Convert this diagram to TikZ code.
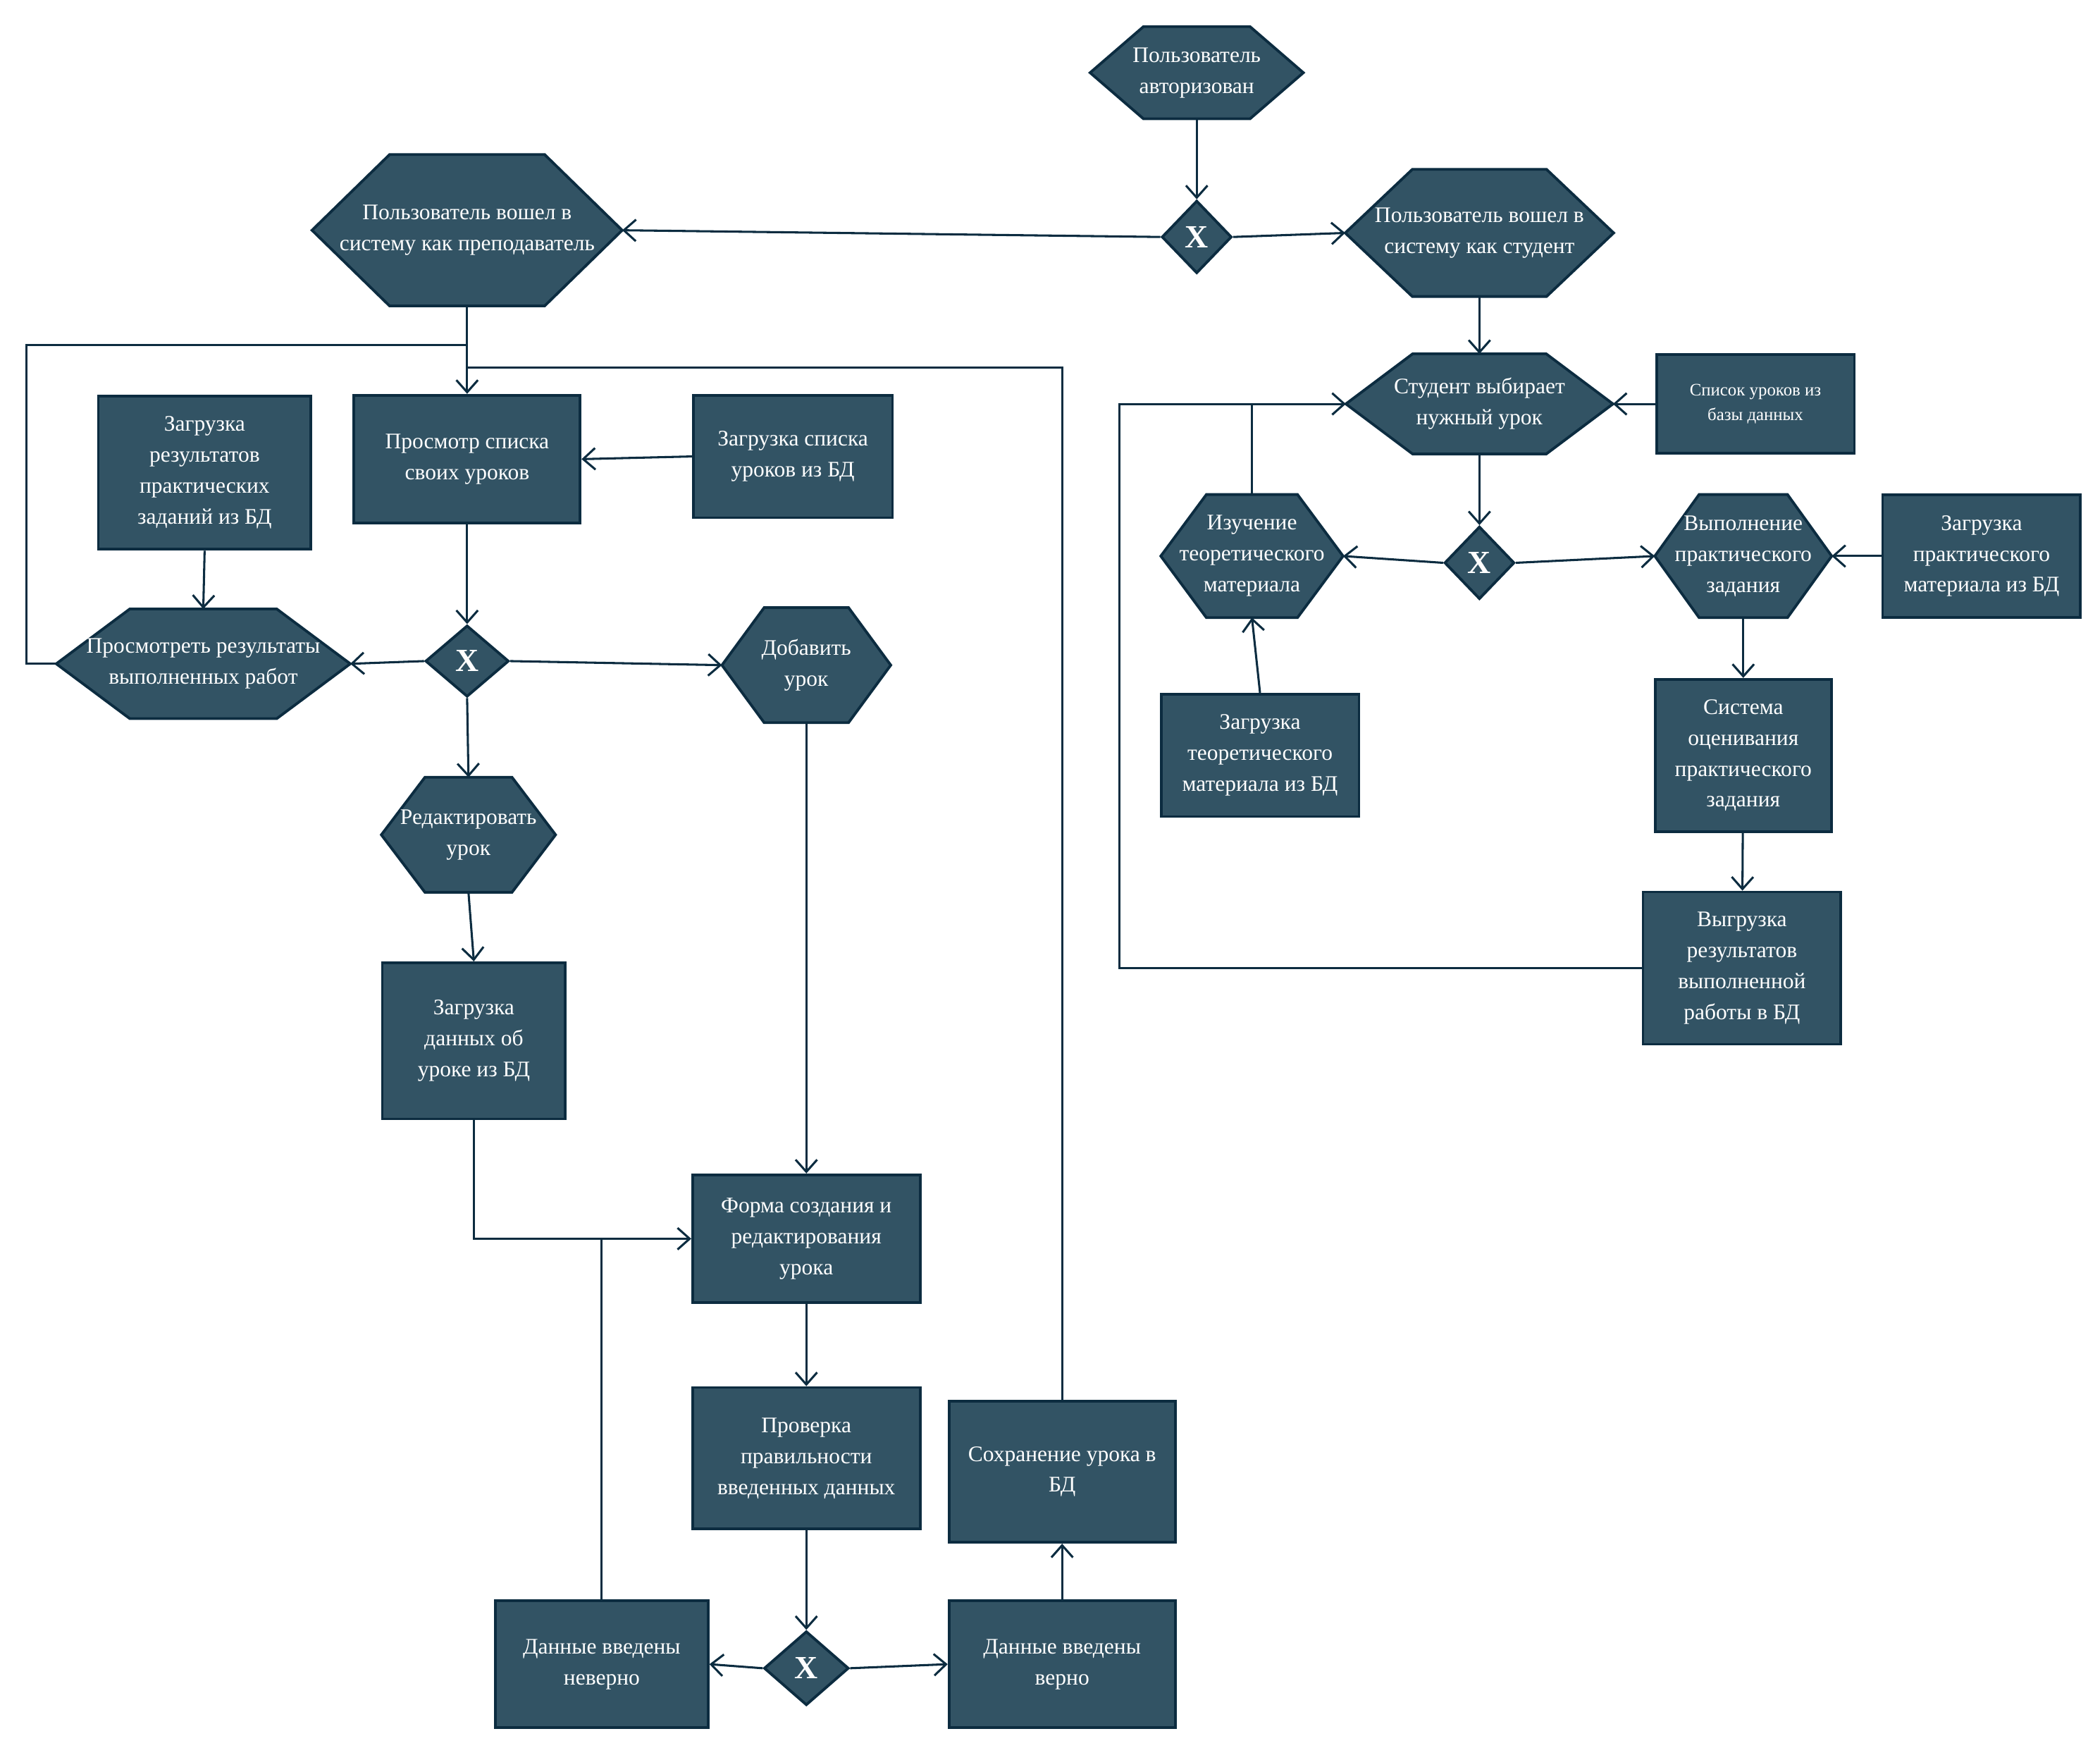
\documentclass[tikz,border=0pt]{standalone}
\usepackage{fontspec}
\setmainfont{Liberation Serif}
\usepackage{xcolor}
\usepackage{tikz}
\usetikzlibrary{shapes.geometric,arrows.meta,calc,backgrounds}
\definecolor{boxfill}{RGB}{50,83,100}
\definecolor{boxline}{RGB}{12,44,64}
\tikzset{
  box/.style = {rectangle, draw=boxline, fill=boxfill, line width=2, text=white, align=center, inner sep=1, font=\fontsize{16.5}{23}\selectfont},
  hexa/.style = {rectangle, text=white, align=center, inner sep=0, font=\fontsize{16.5}{23}\selectfont},
  gate/.style = {diamond, aspect=1, draw=boxline, fill=boxfill, line width=2, text=white, inner sep=0, font=\bfseries\fontsize{24}{24}\selectfont},
  line/.style = {draw=boxline, line width=1.6},
  arr/.style = {line, -{Straight Barb[length=9pt,width=16pt,line width=1.6pt]}}
}
\begin{document}
\begin{tikzpicture}[x=1pt, y=-1pt]
\useasboundingbox (0,0) rectangle (1560,1298);
\node[hexa, minimum width=158, minimum height=68] (auth) at (889,54) {Пользователь\\авторизован};
\node[gate, minimum width=52, minimum height=54] (gx1) at (889,176) {X};
\node[hexa, minimum width=230, minimum height=112] (teach) at (347,171) {Пользователь вошел в\\систему как преподаватель};
\node[hexa, minimum width=199, minimum height=94] (stud) at (1099,173) {Пользователь вошел в\\систему как студент};
\node[box, minimum width=168, minimum height=95] (view) at (347,341) {Просмотр списка\\своих уроков};
\node[box, minimum width=148, minimum height=91] (loadlist) at (589,339) {Загрузка списка\\уроков из БД};
\node[box, minimum width=158, minimum height=114] (loadres) at (152,351) {Загрузка\\результатов\\практических\\заданий из БД};
\node[hexa, minimum width=218, minimum height=81] (results) at (151,493) {Просмотреть результаты\\выполненных работ};
\node[gate, minimum width=62, minimum height=53] (gx2) at (347,491) {X};
\node[hexa, minimum width=125, minimum height=85] (add) at (599,494) {Добавить\\урок};
\node[hexa, minimum width=129, minimum height=85] (edit) at (348,620) {Редактировать\\урок};
\node[box, minimum width=136, minimum height=116] (loaddata) at (352,773) {Загрузка\\данных об\\уроке из БД};
\node[box, minimum width=169, minimum height=95] (form) at (599,920) {Форма создания и\\редактирования\\урока};
\node[box, minimum width=169, minimum height=105] (check) at (599,1083) {Проверка\\правильности\\введенных данных};
\node[gate, minimum width=63, minimum height=55] (gx3) at (599,1239) {X};
\node[box, minimum width=158, minimum height=94] (wrong) at (447,1236) {Данные введены\\неверно};
\node[box, minimum width=168, minimum height=94] (right) at (789,1236) {Данные введены\\верно};
\node[box, minimum width=168, minimum height=105] (save) at (789,1093) {Сохранение урока в\\БД};
\node[hexa, minimum width=198, minimum height=74] (choose) at (1099,300) {Студент выбирает\\нужный урок};
\node[box, minimum width=147, minimum height=73, font=\fontsize{13}{18}\selectfont] (lessons) at (1304,300) {Список уроков из\\базы данных};
\node[gate, minimum width=52, minimum height=54] (gx4) at (1099,418) {X};
\node[hexa, minimum width=135, minimum height=91] (theory) at (930,413) {Изучение\\теоретического\\материала};
\node[hexa, minimum width=131, minimum height=91] (practice) at (1295,413) {Выполнение\\практического\\задания};
\node[box, minimum width=147, minimum height=91] (loadprac) at (1472,413) {Загрузка\\практического\\материала из БД};
\node[box, minimum width=147, minimum height=91] (loadtheo) at (936,561) {Загрузка\\теоретического\\материала из БД};
\node[box, minimum width=131, minimum height=113] (grade) at (1295,561) {Система\\оценивания\\практического\\задания};
\node[box, minimum width=147, minimum height=113] (upload) at (1294,719) {Выгрузка\\результатов\\выполненной\\работы в БД};
\begin{scope}[on background layer]
\foreach \n in {auth,teach,stud,results,add,edit,choose,theory,practice}
  \filldraw[draw=boxline, fill=boxfill, line width=2, line join=miter]
    (\n.west) -- ($(\n.north west)!.25!(\n.north east)$) -- ($(\n.north west)!.75!(\n.north east)$)
    -- (\n.east) -- ($(\n.south west)!.75!(\n.south east)$) -- ($(\n.south west)!.25!(\n.south east)$) -- cycle;
\end{scope}
\coordinate (tj1) at (347,256);
\coordinate (tj2) at (347,273);
\draw[arr] (auth) -- (gx1);
\draw[arr] (gx1.west) -- (teach.east);
\draw[arr] (gx1.east) -- (stud.west);
\draw[arr] (teach) -- (view);
\draw[line] (results.west) -- ++(-22,0) |- (tj1);
\draw[line] (save.north) |- (tj2);
\draw[arr] (loadlist.west) -- (view.east);
\draw[arr] (loadres.south) -- (results.north);
\draw[arr] (view) -- (gx2);
\draw[arr] (gx2.west) -- (results.east);
\draw[arr] (gx2.east) -- (add.west);
\draw[arr] (gx2.south) -- (edit.north);
\draw[arr] (edit.south) -- (loaddata.north);
\draw[arr] (loaddata.south) |- (form.west);
\draw[arr] (add.south) -- (form.north);
\draw[arr] (form) -- (check);
\draw[arr] (check) -- (gx3);
\draw[arr] (gx3.west) -- (wrong.east);
\draw[arr] (gx3.east) -- (right.west);
\draw[arr] (right) -- (save);
\draw[line] (wrong.north) -- (wrong.north |- form.west);
\draw[arr] (stud) -- (choose);
\draw[arr] (lessons.west) -- (choose.east);
\draw[arr] (choose) -- (gx4);
\draw[arr] (gx4.west) -- (theory.east);
\draw[arr] (gx4.east) -- (practice.west);
\draw[arr] (loadprac.west) -- (practice.east);
\draw[arr] (loadtheo.north) -- (theory.south);
\draw[line] (theory.north) -- (theory.north |- choose.west);
\draw[arr] (upload.west) -- ++(-388,0) |- (choose.west);
\draw[arr] (practice) -- (grade);
\draw[arr] (grade) -- (upload);
\end{tikzpicture}
\end{document}
